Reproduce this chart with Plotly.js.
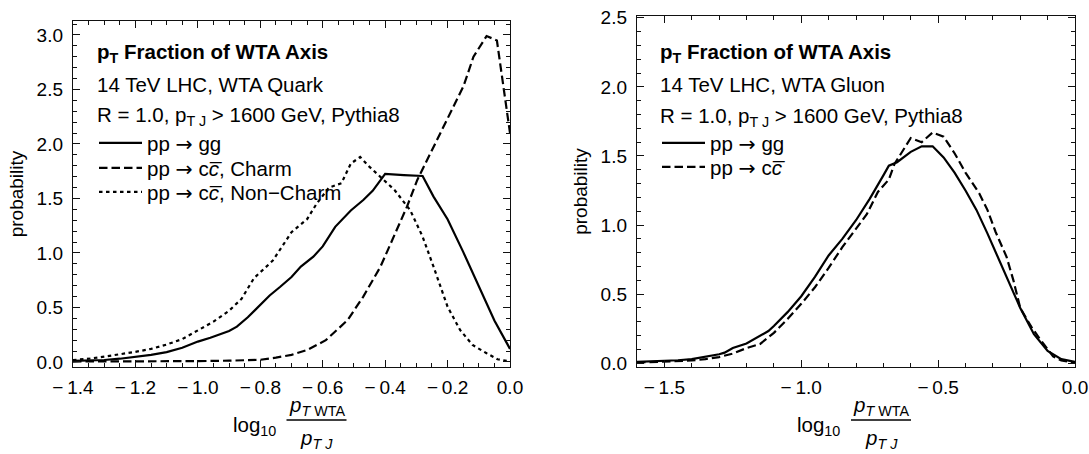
<!DOCTYPE html>
<html><head><meta charset="utf-8">
<script src="https://cdn.plot.ly/plotly-3.0.1.min.js"></script>
<style>html,body{margin:0;padding:0;background:#fff}#chart{width:1089px;height:454px}</style>
</head><body><div id="chart"></div>
<script>
// ---------- Left panel: WTA Quark ----------
const quarkGgX = [-1.4,-1.35,-1.3,-1.25,-1.2,-1.15,-1.1,-1.05,-1.0,-0.96,-0.9,-0.875,-0.84,-0.8,-0.77,-0.736,-0.7,-0.67,-0.63,-0.6,-0.56,-0.51,-0.47,-0.44,-0.4,-0.34,-0.28,-0.245,-0.2,-0.15,-0.1,-0.05,0.0];
const quarkGgY = [0.01,0.013,0.018,0.03,0.047,0.065,0.09,0.13,0.187,0.223,0.285,0.324,0.41,0.53,0.61,0.69,0.78,0.875,0.966,1.06,1.24,1.39,1.486,1.57,1.725,1.715,1.706,1.517,1.31,1.01,0.70,0.38,0.12];
const quarkCharmX = [-1.4,-1.3,-1.2,-1.1,-1.0,-0.9,-0.8,-0.75,-0.7,-0.65,-0.59,-0.52,-0.47,-0.415,-0.373,-0.33,-0.297,-0.276,-0.234,-0.192,-0.149,-0.117,-0.075,-0.042,0.0];
const quarkCharmY = [0.004,0.004,0.005,0.006,0.008,0.012,0.02,0.04,0.065,0.11,0.20,0.385,0.60,0.874,1.15,1.425,1.67,1.79,2.04,2.28,2.53,2.80,2.99,2.95,2.1];
const quarkNonCharmX = [-1.4,-1.35,-1.3,-1.25,-1.2,-1.15,-1.1,-1.05,-1.0,-0.95,-0.9,-0.86,-0.82,-0.79,-0.76,-0.73,-0.7,-0.65,-0.62,-0.58,-0.54,-0.51,-0.48,-0.45,-0.415,-0.37,-0.32,-0.28,-0.245,-0.2,-0.16,-0.12,-0.075,-0.04,0.0];
const quarkNonCharmY = [0.018,0.03,0.049,0.07,0.093,0.12,0.16,0.21,0.29,0.37,0.47,0.58,0.77,0.85,0.93,1.06,1.19,1.31,1.45,1.6,1.64,1.82,1.88,1.79,1.70,1.578,1.394,1.15,0.874,0.507,0.294,0.156,0.08,0.025,0.005];

// ---------- Right panel: WTA Gluon ----------
const gluonGgX = [-1.6,-1.55,-1.5,-1.45,-1.4,-1.35,-1.3,-1.28,-1.25,-1.2,-1.15,-1.12,-1.1,-1.05,-1.0,-0.95,-0.9,-0.85,-0.8,-0.75,-0.7,-0.68,-0.65,-0.6,-0.56,-0.52,-0.48,-0.44,-0.4,-0.36,-0.32,-0.28,-0.25,-0.2,-0.15,-0.1,-0.05,0.0];
const gluonGgY = [0.01,0.013,0.017,0.022,0.03,0.045,0.065,0.077,0.11,0.143,0.2,0.233,0.27,0.37,0.485,0.625,0.78,0.9,1.035,1.19,1.36,1.43,1.455,1.53,1.57,1.57,1.49,1.38,1.25,1.11,0.94,0.76,0.62,0.40,0.21,0.09,0.03,0.01];
const gluonCcX = [-1.6,-1.55,-1.5,-1.45,-1.4,-1.35,-1.3,-1.25,-1.2,-1.15,-1.1,-1.05,-1.0,-0.95,-0.9,-0.85,-0.8,-0.76,-0.72,-0.68,-0.66,-0.6,-0.56,-0.52,-0.48,-0.44,-0.4,-0.35,-0.32,-0.29,-0.25,-0.225,-0.2,-0.16,-0.13,-0.08,-0.05,0.0];
const gluonCcY = [0.005,0.008,0.01,0.015,0.02,0.03,0.045,0.07,0.11,0.14,0.22,0.32,0.43,0.55,0.69,0.84,0.97,1.08,1.24,1.33,1.44,1.63,1.60,1.67,1.64,1.52,1.38,1.23,1.11,0.95,0.77,0.60,0.40,0.265,0.18,0.05,0.02,0.005];

// ---------- Tick labels ----------
const quarkXTickVals = [-1.4,-1.2,-1.0,-0.8,-0.6,-0.4,-0.2,0.0];
const quarkXTickText = ['\u2212\u20091.4','\u2212\u20091.2','\u2212\u20091.0','\u2212\u20090.8','\u2212\u20090.6','\u2212\u20090.4','\u2212\u20090.2','0.0'];
const quarkYTickVals = [0,0.5,1,1.5,2,2.5,3];
const quarkYTickText = ['0.0','0.5','1.0','1.5','2.0','2.5','3.0'];
const gluonXTickVals = [-1.5,-1.0,-0.5,0.0];
const gluonXTickText = ['\u2212\u20091.5','\u2212\u20091.0','\u2212\u20090.5','0.0'];
const gluonYTickVals = [0,0.5,1,1.5,2,2.5];
const gluonYTickText = ['0.0','0.5','1.0','1.5','2.0','2.5'];

// ---------- Texts ----------
const ARROW = '<span style="font-family:DejaVu Sans">\u2192</span>';
const panelTitle = '<b>p<sub>T</sub> Fraction of WTA Axis</b>';
const quarkLine2 = '14 TeV LHC, WTA Quark';
const gluonLine2 = '14 TeV LHC, WTA Gluon';
const infoLine3 = 'R = 1.0, p<sub>T J</sub> &gt; 1600 GeV, Pythia8';
const nameGg = 'pp ' + ARROW + ' gg';
const nameCharm = 'pp ' + ARROW + ' c<i>c\u0305</i>, Charm';
const nameNonCharm = 'pp ' + ARROW + ' c<i>c\u0305</i>, Non\u2212Charm';
const nameCc = 'pp ' + ARROW + ' c<i>c\u0305</i>';
const yTitle = 'probability';
const xTitleLog = 'log<sub>10</sub>';
const xTitleNum = '<i>p</i><sub><i>T</i> WTA</sub>';
const xTitleDen = '<i>p</i><sub><i>T J</i></sub>';

// ---------- Layout helpers ----------
const FONT = '"Liberation Sans", Arial, Helvetica, sans-serif';
const TXT = 20.5;
const W = 1089, H = 454;
const M = {l:73, r:14, t:16, b:87};
const PW = W - M.l - M.r, PH = H - M.t - M.b;
const px = x => (x - M.l) / PW;
const py = y => (H - M.b - y) / PH;
const INK = '#111';

function xAxis(domain, range, vals, text, minorD){
  return {domain, range, tickmode:'array', tickvals:vals, ticktext:text,
    showline:true, linecolor:INK, linewidth:1.2, mirror:'allticks',
    ticks:'inside', ticklen:7, tickwidth:1, tickcolor:INK,
    minor:{ticks:'inside', ticklen:4, tickwidth:1, tickcolor:INK, dtick:minorD, tick0:0, showgrid:false},
    showgrid:false, zeroline:false, fixedrange:true, ticklabelstandoff:3,
    tickfont:{family:FONT, size:19, color:'#000'}};
}
function yAxis(domain, range, vals, text, anchor){
  return {domain, range, anchor, tickmode:'array', tickvals:vals, ticktext:text,
    showline:true, linecolor:INK, linewidth:1.2, mirror:'allticks',
    ticks:'inside', ticklen:7, tickwidth:1, tickcolor:INK,
    minor:{ticks:'inside', ticklen:4, tickwidth:1, tickcolor:INK, dtick:0.1, tick0:0, showgrid:false},
    showgrid:false, zeroline:false, fixedrange:true, ticklabelstandoff:5,
    tickfont:{family:FONT, size:19, color:'#000'},
    title:{text:yTitle, font:{family:FONT, size:19, color:'#000'}, standoff:8}};
}
function legendAt(xp, yp){
  return {x:px(xp), y:py(yp), xanchor:'left', yanchor:'middle', bgcolor:'rgba(0,0,0,0)',
    borderwidth:0, itemwidth:43, tracegroupgap:0,
    font:{family:FONT, size:TXT, color:'#000'}};
}
const LW = 2.2;
const DASH = '8.5px,4px';
const DOT = '3.5px,3.5px';

const traces = [
  {x:quarkGgX, y:quarkGgY, xaxis:'x', yaxis:'y', mode:'lines', name:nameGg, legend:'legend',
   line:{color:'#000', width:LW}},
  {x:quarkCharmX, y:quarkCharmY, xaxis:'x', yaxis:'y', mode:'lines', name:nameCharm, legend:'legend2',
   line:{color:'#000', width:LW, dash:DASH}},
  {x:quarkNonCharmX, y:quarkNonCharmY, xaxis:'x', yaxis:'y', mode:'lines', name:nameNonCharm, legend:'legend3',
   line:{color:'#000', width:LW, dash:DOT}},
  {x:gluonGgX, y:gluonGgY, xaxis:'x2', yaxis:'y2', mode:'lines', name:nameGg, legend:'legend4',
   line:{color:'#000', width:LW}},
  {x:gluonCcX, y:gluonCcY, xaxis:'x2', yaxis:'y2', mode:'lines', name:nameCc, legend:'legend5',
   line:{color:'#000', width:LW, dash:DASH}}
];

const leftTextX = 95, rightTextX = 658;
function txt(text, x, y, opts){
  return Object.assign({text, xref:'paper', yref:'paper', x:px(x), y:py(y), xanchor:'left', yanchor:'middle',
    showarrow:false, font:{family:FONT, size:TXT, color:'#000'}}, opts||{});
}
const BAR_Y = 420;
function fraction(cx){
  return [
    txt(xTitleLog, cx-14, 426, {xanchor:'right'}),
    txt(xTitleNum, cx+25, BAR_Y+1, {xanchor:'center', yanchor:'bottom'}),
    txt(xTitleDen, cx+25, BAR_Y+4, {xanchor:'center', yanchor:'top'})
  ];
}
const leftCenter = (73+510)/2, rightCenter = (637+1075)/2;

const annotations = [
  txt(panelTitle, leftTextX, 53),
  txt(quarkLine2, leftTextX, 84),
  txt(infoLine3, leftTextX, 116),
  txt(panelTitle, rightTextX, 53),
  txt(gluonLine2, rightTextX, 84),
  txt(infoLine3, rightTextX, 117),
  ...fraction(leftCenter),
  ...fraction(rightCenter)
];
const shapes = [leftCenter, rightCenter].map(c => (
  {type:'line', xref:'paper', yref:'paper', x0:px(c-5), x1:px(c+55), y0:py(BAR_Y), y1:py(BAR_Y), line:{color:'#000', width:1.3}}
));

const layout = {
  width:W, height:H, margin:M, paper_bgcolor:'#fff', plot_bgcolor:'#fff',
  font:{family:FONT, size:19, color:'#000'},
  showlegend:true,
  xaxis: Object.assign(xAxis([0, px(510)], [-1.4, 0], quarkXTickVals, quarkXTickText, 0.05), {anchor:'y'}),
  yaxis: yAxis([0, py(21)], [-0.046, 3.128], quarkYTickVals, quarkYTickText, 'x'),
  xaxis2: Object.assign(xAxis([px(637), 1], [-1.6, 0], gluonXTickVals, gluonXTickText, 0.1), {anchor:'y2'}),
  yaxis2: yAxis([0, 1], [-0.027, 2.513], gluonYTickVals, gluonYTickText, 'x2'),
  legend: legendAt(94, 143),
  legend2: legendAt(94, 168),
  legend3: legendAt(94, 192),
  legend4: legendAt(657, 143),
  legend5: legendAt(657, 167),
  annotations, shapes
};
Plotly.newPlot('chart', traces, layout, {staticPlot:true, displayModeBar:false});
</script></body></html>
